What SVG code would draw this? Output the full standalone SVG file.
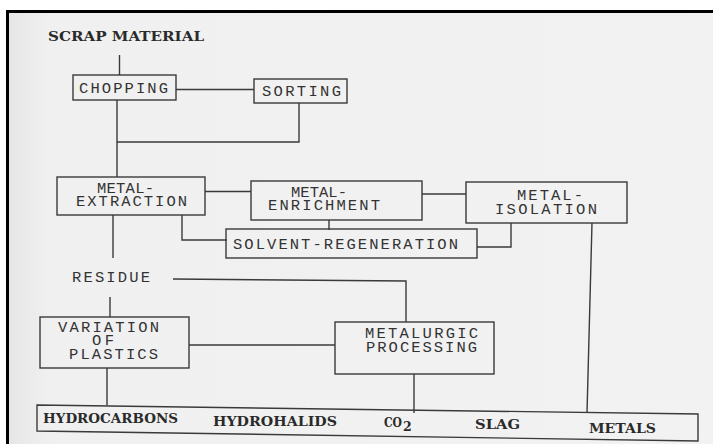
<svg xmlns="http://www.w3.org/2000/svg" width="713" height="444" viewBox="0 0 713 444">
<defs>
<linearGradient id="bg" x1="0" y1="0" x2="1" y2="0">
<stop offset="0" stop-color="#e6e6e6"/>
<stop offset="0.06" stop-color="#f0f0f0"/>
<stop offset="1" stop-color="#f2f2f2"/>
</linearGradient>
</defs>
<style>
.box{fill:none;stroke:#3a3a3a;stroke-width:1.4}
.ln{fill:none;stroke:#3a3a3a;stroke-width:1.4}
.t{font-family:"Liberation Mono","Courier New",monospace;font-size:15.5px;fill:#333}
.b{font-family:"DejaVu Serif","Liberation Serif",serif;font-weight:bold;font-size:12.5px;fill:#2a2a2a}
</style>
<rect x="0" y="0" width="713" height="444" fill="#ffffff"/>
<rect x="8" y="12" width="705" height="432" fill="url(#bg)"/>
<path d="M7.5 444 V11.5 H713" fill="none" stroke="#000" stroke-width="3"/>

<g id="connectors">
<path class="ln" d="M119.5 55 V75"/>
<path class="ln" d="M176 89.5 H254"/>
<path class="ln" d="M299 103 V142 H117"/>
<path class="ln" d="M117 100 V177"/>
<path class="ln" d="M205 191.5 H251"/>
<path class="ln" d="M182 215 V240 H227"/>
<path class="ln" d="M422 194 H466"/>
<path class="ln" d="M329 220 V230"/>
<path class="ln" d="M511 223 V247 H477"/>
<path class="ln" d="M592 223 L587 413"/>
<path class="ln" d="M113 215 V258"/>
<path class="ln" d="M173 279 L406 281 V322"/>
<path class="ln" d="M110 297 V317"/>
<path class="ln" d="M189 345 H335"/>
<path class="ln" d="M107 368 V405"/>
<path class="ln" d="M414 374 V413"/>
</g>

<g id="scrap">
<text class="b" x="48" y="41" textLength="156" lengthAdjust="spacingAndGlyphs">SCRAP MATERIAL</text>
</g>
<g id="chopping">
<rect class="box" x="73" y="75" width="103" height="25"/>
<text class="t" x="79" y="93" textLength="89" lengthAdjust="spacing">CHOPPING</text>
</g>
<g id="sorting">
<rect class="box" x="254" y="79" width="93" height="24"/>
<text class="t" x="262" y="96" textLength="79" lengthAdjust="spacing">SORTING</text>
</g>
<g id="extraction">
<rect class="box" x="57" y="177" width="148" height="38"/>
<text class="t" x="97" y="193" textLength="57" lengthAdjust="spacing">METAL-</text>
<text class="t" x="76" y="206" textLength="111" lengthAdjust="spacing">EXTRACTION</text>
</g>
<g id="enrichment">
<rect class="box" x="251" y="181" width="171" height="39"/>
<text class="t" x="291" y="197" textLength="56" lengthAdjust="spacing">METAL-</text>
<text class="t" x="268" y="210" textLength="112" lengthAdjust="spacing">ENRICHMENT</text>
</g>
<g id="isolation">
<rect class="box" x="466" y="182" width="161" height="41"/>
<text class="t" x="517" y="200" textLength="66" lengthAdjust="spacing">METAL-</text>
<text class="t" x="495" y="214" textLength="102" lengthAdjust="spacing">ISOLATION</text>
</g>
<g id="solvent">
<rect class="box" x="226" y="229" width="251" height="29"/>
<text class="t" x="233" y="249" textLength="225" lengthAdjust="spacing">SOLVENT-REGENERATION</text>
</g>
<g id="residue">
<text class="t" x="72" y="282" textLength="78" lengthAdjust="spacing">RESIDUE</text>
</g>
<g id="variation">
<rect class="box" x="40" y="317" width="149" height="51"/>
<text class="t" x="58" y="332" textLength="101" lengthAdjust="spacing">VARIATION</text>
<text class="t" x="92" y="345" textLength="22" lengthAdjust="spacing">OF</text>
<text class="t" x="69" y="359" textLength="89" lengthAdjust="spacing">PLASTICS</text>
</g>
<g id="metalurgic">
<rect class="box" x="335" y="322" width="159" height="52"/>
<text class="t" x="365" y="338" textLength="113" lengthAdjust="spacing">METALURGIC</text>
<text class="t" x="366" y="352" textLength="111" lengthAdjust="spacing">PROCESSING</text>
</g>
<g id="products">
<polygon class="box" points="37,405 698,414 698,441 37,431"/>
<text class="b" x="43" y="423" textLength="135" lengthAdjust="spacingAndGlyphs">HYDROCARBONS</text>
<text class="b" x="213" y="426" textLength="124" lengthAdjust="spacingAndGlyphs">HYDROHALIDS</text>
<text class="b" x="384" y="427" textLength="18" lengthAdjust="spacingAndGlyphs" font-size="10">CO</text>
<text class="b" x="403" y="431" font-size="11">2</text>
<text class="b" x="475" y="429" textLength="45" lengthAdjust="spacingAndGlyphs">SLAG</text>
<text class="b" x="589" y="433" textLength="67" lengthAdjust="spacingAndGlyphs">METALS</text>
</g>
</svg>
